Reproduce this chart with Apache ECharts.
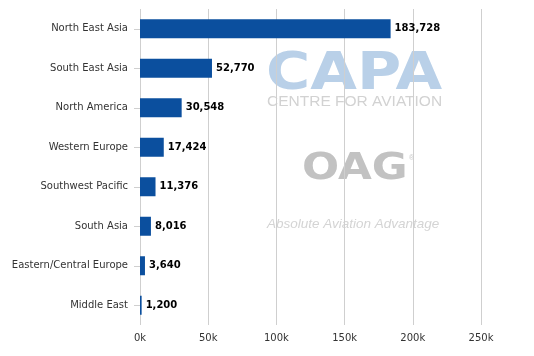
<!DOCTYPE html>
<html>
<head>
<meta charset="utf-8">
<script src="https://cdn.jsdelivr.net/npm/echarts@6/dist/echarts.min.js"></script>
<style>
html,body{margin:0;padding:0;background:#fff;}
#chart{width:534px;height:356px;}
</style>
</head>
<body>
<div id="chart"></div>
<script>
const categories = ["North East Asia","South East Asia","North America","Western Europe","Southwest Pacific","South Asia","Eastern/Central Europe","Middle East"];
const values = [183728, 52770, 30548, 17424, 11376, 8016, 3640, 1200];
const xTicks = {min: 0, max: 250000, interval: 50000};

const chart = echarts.init(document.getElementById('chart'), null, {renderer: 'canvas'});
chart.setOption({
  animation: false,
  backgroundColor: '#fff',
  grid: {left: 140, right: 53, top: 9, bottom: 31, containLabel: false},
  graphic: [
    {type: 'text', z: -10, x: 266, y: 49, scaleX: 1.16, style: {text: 'CAPA', font: 'bold 52px "DejaVu Sans"', fill: '#b9d0e8'}},
    {type: 'text', z: -10, x: 267, y: 94, style: {text: 'CENTRE FOR AVIATION', font: '15.5px "Liberation Sans"', fill: '#d2d2d2'}},
    {type: 'text', z: -10, x: 302, y: 150, scaleX: 1.15, style: {text: 'OAG', font: 'bold 38px "DejaVu Sans"', fill: '#c2c2c2'}},
    {type: 'text', z: -10, x: 409, y: 155, style: {text: '®', font: '7px "Liberation Sans"', fill: '#c8c8c8'}},
    {type: 'text', z: -10, x: 267, y: 217, style: {text: 'Absolute Aviation Advantage', font: 'italic 13.5px "Liberation Sans"', fill: '#d4d4d4'}}
  ],
  xAxis: {
    type: 'value', min: xTicks.min, max: xTicks.max, interval: xTicks.interval,
    axisLine: {show: false}, axisTick: {show: false},
    axisLabel: {margin: 8, color: '#333', fontSize: 10, fontFamily: 'DejaVu Sans', formatter: v => (v/1000) + 'k'},
    splitLine: {show: true, lineStyle: {color: '#cfcfcf', width: 1}}
  },
  yAxis: {
    type: 'category', data: categories, inverse: true,
    axisLine: {show: false},
    axisTick: {show: true, alignWithLabel: true, length: 6, lineStyle: {color: '#cfcfcf'}},
    axisLabel: {margin: 12, color: '#333', fontSize: 10, fontFamily: 'DejaVu Sans'}
  },
  series: [{
    type: 'bar', data: values, barWidth: 19,
    itemStyle: {color: '#0b4f9e'},
    label: {show: true, position: 'right', distance: 4, color: '#000', fontSize: 10, fontWeight: 'bold', fontFamily: 'DejaVu Sans',
      formatter: p => p.value.toLocaleString('en-US')}
  }]
});
</script>
</body>
</html>
